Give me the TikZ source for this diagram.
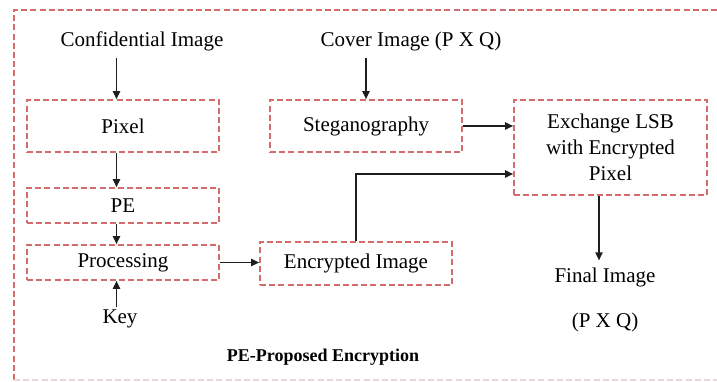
\documentclass[tikz,border=0pt]{standalone}
\usepackage{fontspec}
\setmainfont{Liberation Serif}
\usetikzlibrary{arrows.meta,positioning}
\definecolor{frameRed}{HTML}{D46C6E}
\definecolor{frameFaint}{HTML}{EAD6D6}
\definecolor{flowInk}{HTML}{1E1E1E}

\begin{document}
\begin{tikzpicture}[
  x=0.5pt, y=-0.5pt,
  font=\fontsize{10.5}{13}\selectfont,
  >={Triangle[length=4pt,width=3.6pt]},
  redline/.style={draw=frameRed, dash pattern=on 3pt off 1.6pt, line width=0.85pt},
  stagebox/.style={redline, align=center, inner sep=2pt, minimum width=96pt},
  flow/.style={->, draw=flowInk, line width=0.7pt},
]
\useasboundingbox (0,0) rectangle (717,381);
% outer frame, bottom edge is faded
\draw[redline] (14,380) -- (14,10) -- (730,10);
\draw[redline, draw=frameFaint] (14,380) -- (730,380);

\node (conf) at (142,41) {Confidential Image};
\node (cover) at (411,41) {Cover Image (P X Q)};
\node[stagebox, minimum height=26pt] (pixel) at (123,126) {Pixel};
\node[stagebox, minimum height=17.5pt] (pe) at (123,205.5) {PE};
\node[stagebox, minimum height=17.5pt] (proc) at (123,262.5) {Processing};
\node[inner sep=1pt] (key) at (120,319) {Key};
\node[stagebox, minimum height=26pt] (steg) at (366,126) {Steganography};
\node[stagebox, minimum width=96.5pt, minimum height=47.5pt] (exch) at (610.5,147.5)
  {Exchange LSB\\with Encrypted\\Pixel};
\node[stagebox, minimum height=21.5pt] (enc) at (356,263.5) {Encrypted Image};
\node (final) at (605,277) {Final Image};
\node[below=6pt of final] (pq) {(P X Q)};
\node[font=\fontsize{9}{11}\selectfont\bfseries] (cap) at (323,357) {PE-Proposed Encryption};

% left column of arrows
\coordinate (pcol) at ([xshift=-3.25pt]pixel.south);
\draw[flow] (pcol |- conf.south) -- (pcol |- pixel.north);
\draw[flow] (pcol) -- (pcol |- pe.north);
\draw[flow] (pcol |- pe.south) -- (pcol |- proc.north);
\draw[flow] (pcol |- key.north) -- (pcol |- proc.south);

\draw[flow] (steg.north |- cover.south) -- (steg.north);
\draw[flow] (steg.east) -- (steg.east -| exch.west);
\draw[flow] (proc.east) -- (proc.east -| enc.west);
\draw[flow] (enc.north) |- ([yshift=-13.25pt]exch.west);

\coordinate (ecol) at ([xshift=-5.75pt]exch.south);
\draw[flow] (ecol) -- (ecol |- final.north);
\end{tikzpicture}
\end{document}
